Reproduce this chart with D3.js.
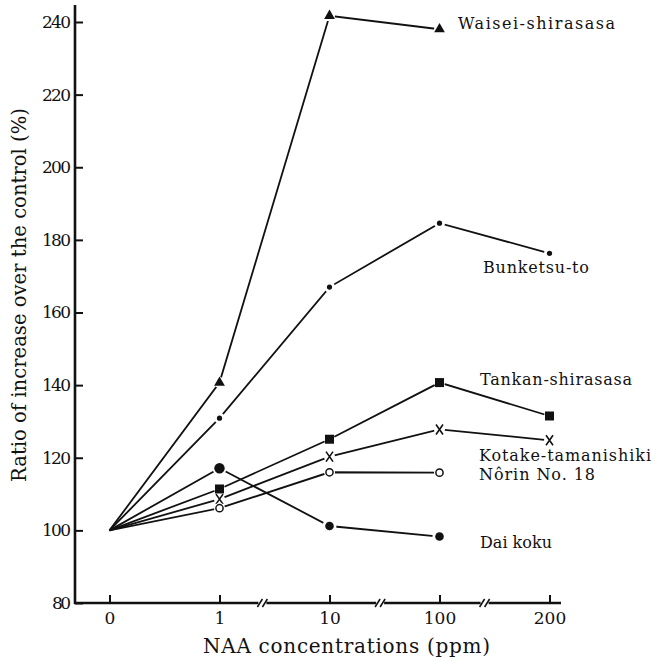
<!DOCTYPE html>
<html>
<head>
<meta charset="utf-8">
<script src="https://cdn.jsdelivr.net/npm/d3@7"></script>
<style>
  body { margin: 0; background: #fff; }
  svg text { font-family: "DejaVu Serif", "Liberation Serif", serif; fill: #111; }
</style>
</head>
<body>
<div id="chart"></div>
<script>
// NAA concentration levels (categorical, axis has breaks between them)
const concentrations = ["0", "1", "10", "100", "200"];
const yTicks = [80, 100, 120, 140, 160, 180, 200, 220, 240];

// ratio of increase over control (%), null = not measured
const waisei   = [100, 140.7, 241.7, 238.0, null];
const bunketsu = [100, 130.9, 167.0, 184.6, 176.3];
const tankan   = [100, 111.4, 125.1, 140.7, 131.5];
const kotake   = [100, 108.6, 120.3, 127.8, 124.8];
const norin    = [100, 106.1, 116.0, 115.9, null];
const daikoku  = [100, 117.1, 101.2, 98.3, null];

const seriesNames = ["Waisei-shirasasa", "Bunketsu-to", "Tankan-shirasasa",
                     "Kotake-tamanishiki", "Nôrin No. 18", "Dai koku"];
const seriesValues = [waisei, bunketsu, tankan, kotake, norin, daikoku];
const seriesMarkers = ["triangle", "dot", "square", "cross", "ring", "bigdot"];
// where each name label sits (data value on the y scale)
const labelValues = [239.5, 172.5, 141.5, 120.7, 115.3, 96.8];

const width = 652;
const height = 661;
const serif = '"DejaVu Serif", "Liberation Serif", serif';

const svg = d3.select("#chart").append("svg")
    .attr("width", width).attr("height", height)
    .attr("font-family", serif);

const x = d3.scalePoint().domain(concentrations).range([109.5, 549.5]);
const y = d3.scaleLinear().domain([80, 240]).range([603, 22]);

const axisLeft = 75;
const axisBottom = 603;

// y axis
const yAxis = d3.axisLeft(y).tickValues(yTicks).tickSizeInner(-8).tickSizeOuter(0).tickPadding(4);
const yg = svg.append("g").attr("transform", `translate(${axisLeft},0)`).call(yAxis)
    .attr("font-family", serif);
yg.select(".domain").remove();
yg.selectAll(".tick line").attr("stroke", "#111").attr("stroke-width", 2);
yg.selectAll(".tick text").style("font-size", "17px").attr("textLength", d => d >= 100 ? 29 : 19);

// x axis
const xAxis = d3.axisBottom(x).tickSizeInner(-8).tickSizeOuter(0).tickPadding(9);
const xg = svg.append("g").attr("transform", `translate(0,${axisBottom})`).call(xAxis)
    .attr("font-family", serif);
xg.select(".domain").remove();
xg.selectAll(".tick line").attr("stroke", "#111").attr("stroke-width", 2);
xg.selectAll(".tick text").style("font-size", "17px");

// axis lines
svg.append("line")
    .attr("x1", axisLeft).attr("x2", axisLeft)
    .attr("y1", 5).attr("y2", axisBottom + 1)
    .attr("stroke", "#111").attr("stroke-width", 2.6);
svg.append("line")
    .attr("x1", axisLeft - 1).attr("x2", 561)
    .attr("y1", axisBottom).attr("y2", axisBottom)
    .attr("stroke", "#111").attr("stroke-width", 2.4);

// axis breaks between the categories
const breakFrac = [0.39, 0.46, 0.41];
for (let i = 1; i < concentrations.length - 1; i++) {
  const a = x(concentrations[i]), b = x(concentrations[i + 1]);
  const bx = a + breakFrac[i - 1] * (b - a);
  svg.append("rect").attr("x", bx - 4).attr("y", axisBottom - 3)
      .attr("width", 8).attr("height", 6).attr("fill", "#fff");
  [-2.5, 2.5].forEach(off => {
    svg.append("line")
        .attr("x1", bx + off - 2.5).attr("y1", axisBottom + 4)
        .attr("x2", bx + off + 2.5).attr("y2", axisBottom - 4)
        .attr("stroke", "#111").attr("stroke-width", 1.6);
  });
}

// axis titles
svg.append("text")
    .attr("x", 203).attr("y", 653)
    .attr("textLength", 287).attr("lengthAdjust", "spacing")
    .style("font-size", "20px")
    .text("NAA concentrations (ppm)");

svg.append("text")
    .attr("transform", "translate(26,482) rotate(-90)")
    .attr("textLength", 374).attr("lengthAdjust", "spacingAndGlyphs")
    .style("font-size", "20px")
    .text("Ratio of increase over the control (%)");

// lines
const line = d3.line()
    .defined(d => d.v != null)
    .x(d => x(d.c))
    .y(d => y(d.v));

const seriesData = seriesValues.map(vals => vals.map((v, i) => ({ c: concentrations[i], v })));

svg.selectAll(".series")
    .data(seriesData)
    .enter().append("path")
    .attr("class", "series")
    .attr("fill", "none")
    .attr("stroke", "#111")
    .attr("stroke-width", 1.8)
    .attr("d", line);

// markers (no marker at the common origin)
const markerG = svg.append("g");
seriesData.forEach((pts, si) => {
  const kind = seriesMarkers[si];
  pts.forEach((p, i) => {
    if (i === 0 || p.v == null) return;
    const cx = x(p.c), cy = y(p.v);
    // white halo so lines stop short of the marker
    markerG.append("circle").attr("cx", cx).attr("cy", cy)
        .attr("r", kind === "bigdot" ? 7 : 5.5).attr("fill", "#fff");
    if (kind === "triangle") {
      markerG.append("path").attr("transform", `translate(${cx},${cy})`)
          .attr("d", d3.symbol(d3.symbolTriangle, 50)()).attr("fill", "#111");
    } else if (kind === "dot") {
      markerG.append("circle").attr("cx", cx).attr("cy", cy).attr("r", 2.6).attr("fill", "#111");
    } else if (kind === "square") {
      markerG.append("rect").attr("x", cx - 4.5).attr("y", cy - 4.5)
          .attr("width", 9).attr("height", 9).attr("fill", "#111");
    } else if (kind === "cross") {
      markerG.append("path")
          .attr("d", `M${cx - 3.5},${cy - 5}L${cx + 3.5},${cy + 5}M${cx + 3.5},${cy - 5}L${cx - 3.5},${cy + 5}`)
          .attr("stroke", "#111").attr("stroke-width", 1.6).attr("fill", "none");
    } else if (kind === "ring") {
      markerG.append("circle").attr("cx", cx).attr("cy", cy).attr("r", 3.6)
          .attr("fill", "#fff").attr("stroke", "#111").attr("stroke-width", 1.5);
    } else if (kind === "bigdot") {
      markerG.append("circle").attr("cx", cx).attr("cy", cy)
          .attr("r", i === 1 ? 5.2 : 4.3).attr("fill", "#111");
    }
  });
});

// series labels
const labelX = [458, 483, 480, 479, 479, 480];
const labelW = [157, 106, 152, 172, 116, 72];
svg.selectAll(".lab")
    .data(seriesNames)
    .enter().append("text")
    .attr("class", "lab")
    .attr("x", (d, i) => labelX[i])
    .attr("y", (d, i) => y(labelValues[i]))
    .attr("dy", "0.35em")
    .attr("textLength", (d, i) => labelW[i])
    .attr("lengthAdjust", "spacing")
    .style("font-size", "16px")
    .text(d => d);
</script>
</body>
</html>
